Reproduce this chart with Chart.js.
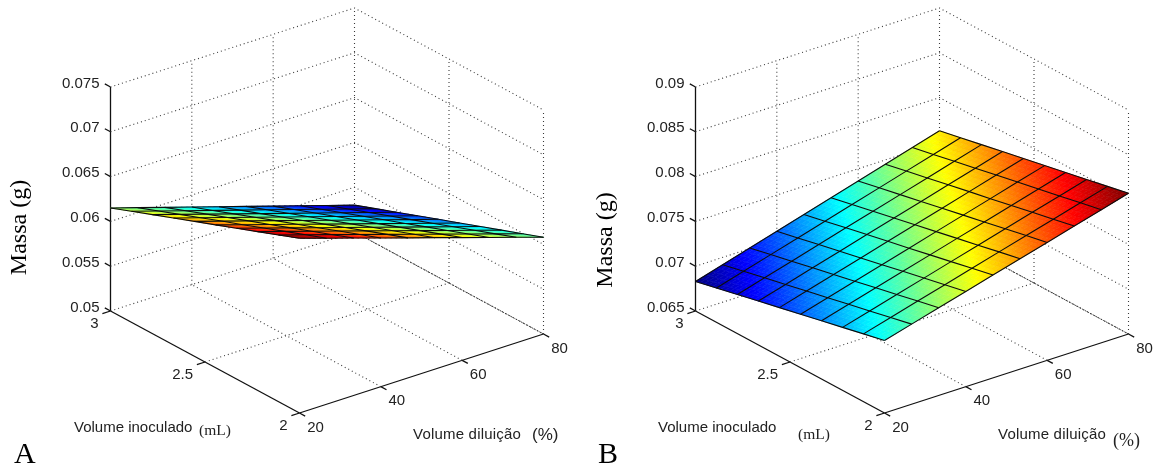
<!DOCTYPE html>
<html><head><meta charset="utf-8">
<style>html,body{margin:0;padding:0;background:#fff}canvas{display:block}</style>
<script src="https://cdn.jsdelivr.net/npm/chart.js@4/dist/chart.umd.min.js"></script>
</head><body>
<canvas id="c" width="1156" height="470"></canvas>
<script>
const dilutionGrid=[20,26.67,33.33,40,46.67,53.33,60,66.67,73.33,80];
const inoculumGrid=[3,2.889,2.778,2.667,2.556,2.444,2.333,2.222,2.111,2];
const massA=[
[.06150,.06056,.05961,.05867,.05772,.05678,.05583,.05489,.05394,.05300],
[.06239,.06144,.06050,.05955,.05860,.05766,.05671,.05576,.05481,.05387],
[.06328,.06233,.06138,.06043,.05948,.05853,.05758,.05663,.05568,.05473],
[.06417,.06322,.06227,.06131,.06036,.05941,.05846,.05751,.05655,.05560],
[.06506,.06411,.06315,.06220,.06124,.06029,.05933,.05838,.05742,.05647],
[.06594,.06498,.06403,.06307,.06211,.06116,.06020,.05924,.05829,.05733],
[.06683,.06587,.06491,.06395,.06299,.06204,.06108,.06012,.05916,.05820],
[.06772,.06676,.06580,.06484,.06388,.06292,.06195,.06099,.06003,.05907],
[.06861,.06765,.06668,.06572,.06475,.06379,.06282,.06186,.06089,.05993],
[.06950,.06853,.06757,.06660,.06563,.06467,.06370,.06273,.06177,.06080]];
const massB=[
[.06830,.06919,.07008,.07097,.07186,.07274,.07363,.07452,.07541,.07630],
[.06883,.06971,.07060,.07148,.07237,.07325,.07413,.07502,.07590,.07679],
[.06937,.07025,.07113,.07201,.07289,.07376,.07464,.07552,.07640,.07728],
[.06990,.07077,.07165,.07252,.07340,.07427,.07514,.07602,.07689,.07777],
[.07043,.07130,.07217,.07304,.07391,.07478,.07565,.07652,.07739,.07826],
[.07097,.07183,.07270,.07356,.07442,.07529,.07615,.07701,.07788,.07874],
[.07150,.07236,.07322,.07408,.07494,.07580,.07665,.07751,.07837,.07923],
[.07203,.07288,.07374,.07459,.07545,.07630,.07715,.07801,.07886,.07972],
[.07257,.07342,.07427,.07512,.07597,.07682,.07766,.07851,.07936,.08021],
[.07310,.07394,.07479,.07563,.07648,.07732,.07816,.07901,.07985,.08070]];
const dilutionTicks=[20,40,60,80];
const inoculumTicks=[3,2.5,2];
const massTicksA=[0.05,0.055,0.06,0.065,0.07,0.075];
const massLabelsA=["0.05","0.055","0.06","0.065","0.07","0.075"];
const massTicksB=[0.065,0.07,0.075,0.08,0.085,0.09];
const massLabelsB=["0.065","0.07","0.075","0.08","0.085","0.09"];

const SANS='"Liberation Sans",Arial,sans-serif', SERIF='"Liberation Serif","Times New Roman",serif';
const panels=[
 {ox:299.5,oy:413,mass:massA,ticks:massTicksA,labels:massLabelsA,letter:"A",letterX:14,
  massTitle:[20,227.5],inoc:[74,428],mL:[199,431],dil:[413,435],pct:[532,435,SANS,17]},
 {ox:884.5,oy:413,mass:massB,ticks:massTicksB,labels:massLabelsB,letter:"B",letterX:598,
  massTitle:[606,240],inoc:[658,428],mL:[798,435],dil:[998,435],pct:[1113,441,SERIF,18]}
];
function project(p,d,v,m){
  const zMin=p.ticks[0],zMax=p.ticks[p.ticks.length-1];
  return {x:p.ox+(d-20)/60*244-(v-2)*189,
          y:p.oy-(d-20)/60*79-(v-2)*102-(m-zMin)/(zMax-zMin)*224};
}
function jet(t){
  t=Math.max(0,Math.min(1,t));
  const c=k=>Math.round(255*Math.max(0,Math.min(1,1.5-Math.abs(4*t-k))));
  return `rgb(${c(3)},${c(2)},${c(1)})`;
}
const GRID={borderColor:'#3a3a3a',borderWidth:1.1,borderDash:[1,3],order:2};
const AXIS={borderColor:'#111',borderWidth:1.3,order:2};
const MESH={borderColor:'#0c0c0c',borderWidth:1.1,order:0};
const datasets=[];
function line(pts,st){datasets.push(Object.assign({data:pts,showLine:true,pointRadius:0,fill:false,tension:0},st));}
panels.forEach(p=>{
  const z0=p.ticks[0],z1=p.ticks[p.ticks.length-1];
  p.ticks.forEach(z=>{
    line([project(p,20,3,z),project(p,80,3,z),project(p,80,2,z)],GRID);
  });
  dilutionTicks.slice(1).forEach(d=>line([project(p,d,3,z0),project(p,d,3,z1)],GRID));
  line([project(p,80,2.5,z0),project(p,80,2.5,z1)],GRID);
  line([project(p,80,2,z0),project(p,80,2,z1)],GRID);
  dilutionTicks.slice(1,3).forEach(d=>line([project(p,d,2,z0),project(p,d,3,z0)],GRID));
  line([project(p,20,2.5,z0),project(p,80,2.5,z0)],GRID);
  line([project(p,80,3,z0),project(p,80,2,z0)],{borderColor:'#444',borderWidth:1,borderDash:[2,1],order:2});
  line([project(p,20,3,z1),project(p,20,3,z0)],AXIS);
  line([project(p,20,3,z0),project(p,20,2,z0)],AXIS);
  line([project(p,20,2,z0),project(p,80,2,z0)],AXIS);
  p.ticks.forEach(z=>line([project(p,20,3,z),project(p,20,3.03,z)],AXIS));
  inoculumTicks.forEach(v=>line([project(p,20,v,z0),project(p,18,v,z0)],AXIS));
  dilutionTicks.forEach(d=>line([project(p,d,2,z0),project(p,d,1.97,z0)],AXIS));
  p.mass.forEach((row,j)=>line(row.map((m,i)=>project(p,dilutionGrid[i],inoculumGrid[j],m)),MESH));
  dilutionGrid.forEach((d,i)=>line(p.mass.map((row,j)=>project(p,d,inoculumGrid[j],row[i])),MESH));
});
function paintSurfaces(chart){
  const {ctx,scales:{x,y}}=chart,N=5;
  panels.forEach(p=>{
    const all=p.mass.flat(),lo=Math.min(...all),hi=Math.max(...all);
    const val=(j,i,s,t)=>{
      const r=p.mass;
      return (1-s)*(1-t)*r[j][i]+(1-s)*t*r[j][i+1]+s*(1-t)*r[j+1][i]+s*t*r[j+1][i+1];
    };
    const P=(j,i,s,t)=>{
      const d=dilutionGrid[i]+t*(dilutionGrid[i+1]-dilutionGrid[i]);
      const v=inoculumGrid[j]+s*(inoculumGrid[j+1]-inoculumGrid[j]);
      const q=project(p,d,v,val(j,i,s,t));
      return [x.getPixelForValue(q.x),y.getPixelForValue(q.y)];
    };
    ctx.save();ctx.lineWidth=0.6;
    for(let j=0;j<9;j++)for(let i=0;i<9;i++)for(let a=0;a<N;a++)for(let b=0;b<N;b++){
      const s0=a/N,s1=(a+1)/N,t0=b/N,t1=(b+1)/N;
      const col=jet((val(j,i,(s0+s1)/2,(t0+t1)/2)-lo)/(hi-lo));
      const c=[P(j,i,s0,t0),P(j,i,s0,t1),P(j,i,s1,t1),P(j,i,s1,t0)];
      ctx.fillStyle=col;ctx.strokeStyle=col;
      ctx.beginPath();ctx.moveTo(...c[0]);ctx.lineTo(...c[1]);ctx.lineTo(...c[2]);ctx.lineTo(...c[3]);ctx.closePath();
      ctx.fill();ctx.stroke();
    }
    ctx.restore();
  });
}
let painted=false;
const surface={id:'surface',
  beforeDatasetsDraw(){painted=false;},
  beforeDatasetDraw(chart,args){
    if(!painted && chart.data.datasets[args.index].order===0){painted=true;paintSurfaces(chart);}
  }};
const texts={id:'texts',afterDraw(chart){
  const {ctx,scales:{x,y}}=chart;
  const put=(s,px,py,font,al,col)=>{ctx.font=font;ctx.textAlign=al;ctx.textBaseline='middle';ctx.fillStyle=col||'#222';ctx.fillText(s,px,py);};
  ctx.save();
  panels.forEach(p=>{
    const z0=p.ticks[0],tf='15px '+SANS;
    p.labels.forEach((l,k)=>{
      const q=project(p,20,3,p.ticks[k]);
      put(l,x.getPixelForValue(q.x)-11,y.getPixelForValue(q.y)-3.5,tf,'right');
    });
    inoculumTicks.forEach(v=>{
      const q=project(p,20,v,z0);
      put(String(v),x.getPixelForValue(q.x)-12,y.getPixelForValue(q.y)+12.5,tf,'right');
    });
    dilutionTicks.forEach(d=>{
      const q=project(p,d,2,z0);
      put(String(d),x.getPixelForValue(q.x)+16,y.getPixelForValue(q.y)+14.5,tf,'center');
    });
    put("Volume inoculado",p.inoc[0],p.inoc[1],tf,'left');
    put("(mL)",p.mL[0],p.mL[1],'15.5px '+SERIF,'left');
    ctx.letterSpacing='0.2px';
    put("Volume diluição",p.dil[0],p.dil[1],tf,'left');
    ctx.letterSpacing='0px';
    put("(%)",p.pct[0],p.pct[1],p.pct[3]+'px '+p.pct[2],'left');
    put(p.letter,p.letterX,455,'30px '+SERIF,'left','#000');
    ctx.save();ctx.translate(p.massTitle[0],p.massTitle[1]);ctx.rotate(-Math.PI/2);
    put("Massa (g)",0,0,'24px '+SERIF,'center','#000');ctx.restore();
  });
  ctx.restore();
}};
new Chart(document.getElementById('c'),{
  type:'scatter',
  data:{datasets},
  options:{responsive:false,animation:false,events:[],
    layout:{padding:0},
    plugins:{legend:{display:false},tooltip:{enabled:false}},
    scales:{x:{type:'linear',min:0,max:1156,display:false},
            y:{type:'linear',min:0,max:470,reverse:true,display:false}}},
  plugins:[surface,texts]
});
</script>
</body></html>
